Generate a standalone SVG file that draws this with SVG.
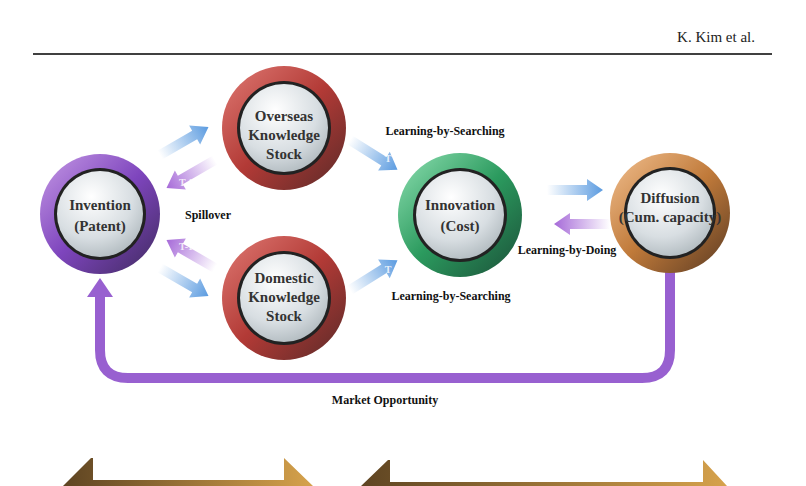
<svg xmlns="http://www.w3.org/2000/svg" width="806" height="486" viewBox="0 0 806 486">
<style>
.t{font-family:"Liberation Serif",serif;font-weight:bold;fill:#111;text-anchor:middle}
.n{font-family:"Liberation Serif",serif;font-weight:bold;fill:#333;text-anchor:middle;font-size:15px}
.s{font-family:"Liberation Serif",serif;font-weight:bold;fill:#fff;font-size:10px;text-anchor:middle;opacity:.8}
.h{font-family:"Liberation Serif",serif;font-size:15px;fill:#222;text-anchor:end}
</style>
<defs>
<radialGradient id="inner" cx="0.4" cy="0.3" r="0.8"><stop offset="0" stop-color="#ffffff"/><stop offset="0.6" stop-color="#d8dee2"/><stop offset="1" stop-color="#a9b3b8"/></radialGradient>
<linearGradient id="red" x1="0" y1="0" x2="1" y2="1"><stop offset="0" stop-color="#e07a74"/><stop offset="0.5" stop-color="#b23a36"/><stop offset="1" stop-color="#5a2a28"/></linearGradient>
<linearGradient id="pur" x1="0" y1="0" x2="1" y2="1"><stop offset="0" stop-color="#c69ae6"/><stop offset="0.5" stop-color="#7e45bd"/><stop offset="1" stop-color="#3f2a5e"/></linearGradient>
<linearGradient id="grn" x1="0" y1="0" x2="1" y2="1"><stop offset="0" stop-color="#8fe0b2"/><stop offset="0.5" stop-color="#2b9a5e"/><stop offset="1" stop-color="#1b4f38"/></linearGradient>
<linearGradient id="brn" x1="0" y1="0" x2="1" y2="1"><stop offset="0" stop-color="#f2c090"/><stop offset="0.5" stop-color="#c07a3a"/><stop offset="1" stop-color="#5a3a22"/></linearGradient>
<linearGradient id="ba" x1="0" y1="0" x2="1" y2="0"><stop offset="0" stop-color="#5b9be0" stop-opacity="0"/><stop offset="1" stop-color="#5b9be0"/></linearGradient>
<linearGradient id="pa" x1="0" y1="0" x2="1" y2="0"><stop offset="0" stop-color="#a66ad8" stop-opacity="0"/><stop offset="1" stop-color="#a66ad8"/></linearGradient>
<linearGradient id="gold" x1="0" y1="0" x2="1" y2="0"><stop offset="0" stop-color="#5e4422"/><stop offset="1" stop-color="#d6a24c"/></linearGradient>
<path id="arr" d="M0,-5 L40,-5 L40,-11 L56,0 L40,11 L40,5 L0,5 Z"/>
</defs>
<text class="h" x="755" y="42">K. Kim et al.</text>
<line x1="33" y1="54" x2="772" y2="54" stroke="#000" stroke-width="1.5"/>
<g id="connectors">
<path d="M670,270 V350 Q670,378 642,378 H128 Q100,378 100,350 V296" fill="none" stroke="#9860d0" stroke-width="10"/>
<path d="M87,297 L100,278 L113,297 Z" fill="#9860d0"/>
<use href="#arr" fill="url(#ba)" transform="translate(160,155) rotate(-30)"/>
<use href="#arr" fill="url(#pa)" transform="translate(215,160) rotate(150)"/>
<use href="#arr" fill="url(#ba)" transform="translate(160,268) rotate(30)"/>
<use href="#arr" fill="url(#pa)" transform="translate(215,268) rotate(-150)"/>
<use href="#arr" fill="url(#ba)" transform="translate(350,140) rotate(32)"/>
<use href="#arr" fill="url(#ba)" transform="translate(350,290) rotate(-32)"/>
<use href="#arr" fill="url(#ba)" transform="translate(547,190)"/>
<use href="#arr" fill="url(#pa)" transform="translate(610,224) rotate(180)"/>
<text class="s" x="388" y="162">T</text><text class="s" x="388" y="273">T</text>
<text class="s" x="186" y="186">T-1</text><text class="s" x="186" y="250">T-1</text>
</g>
<g id="invention"><circle cx="100" cy="214" r="60" fill="url(#pur)"/><circle cx="100" cy="214" r="46" fill="#222"/><circle cx="100" cy="214" r="43" fill="url(#inner)"/>
<text class="n" x="100" y="210">Invention</text><text class="n" x="100" y="231">(Patent)</text></g>
<g id="overseas"><circle cx="284" cy="128" r="62" fill="url(#red)"/><circle cx="284" cy="128" r="47" fill="#222"/><circle cx="284" cy="128" r="44" fill="url(#inner)"/>
<text class="n" x="284" y="121" font-size="14">Overseas</text><text class="n" x="284" y="140" font-size="14">Knowledge</text><text class="n" x="284" y="159" font-size="14">Stock</text></g>
<g id="domestic"><circle cx="284" cy="298" r="62" fill="url(#red)"/><circle cx="284" cy="298" r="47" fill="#222"/><circle cx="284" cy="298" r="44" fill="url(#inner)"/>
<text class="n" x="284" y="283" font-size="14">Domestic</text><text class="n" x="284" y="302" font-size="14">Knowledge</text><text class="n" x="284" y="321" font-size="14">Stock</text></g>
<g id="innovation"><circle cx="460" cy="215" r="62" fill="url(#grn)"/><circle cx="460" cy="215" r="47" fill="#222"/><circle cx="460" cy="215" r="44" fill="url(#inner)"/>
<text class="n" x="460" y="210">Innovation</text><text class="n" x="460" y="231">(Cost)</text></g>
<g id="diffusion"><circle cx="670" cy="213" r="60" fill="url(#brn)"/><circle cx="670" cy="213" r="46" fill="#222"/><circle cx="670" cy="213" r="43" fill="url(#inner)"/>
<text class="n" x="670" y="203">Diffusion</text><text class="n" x="670" y="222" font-size="13">(Cum. capacity)</text></g>
<g id="labels">
<text class="t" x="445" y="135" font-size="12">Learning-by-Searching</text>
<text class="t" x="451" y="300" font-size="12">Learning-by-Searching</text>
<text class="t" x="567" y="254" font-size="12">Learning-by-Doing</text>
<text class="t" x="208" y="219" font-size="12">Spillover</text>
<text class="t" x="385" y="404" font-size="12">Market Opportunity</text>
</g>
<g id="brackets">
<path d="M63,486 L91,458 L93,458 L93,480 L284,480 L284,458 L313,486 Z" fill="url(#gold)"/>
<path d="M361,486 L388,460 L390,460 L390,482 L703,482 L703,460 L727,486 Z" fill="url(#gold)"/>
</g>
</svg>
